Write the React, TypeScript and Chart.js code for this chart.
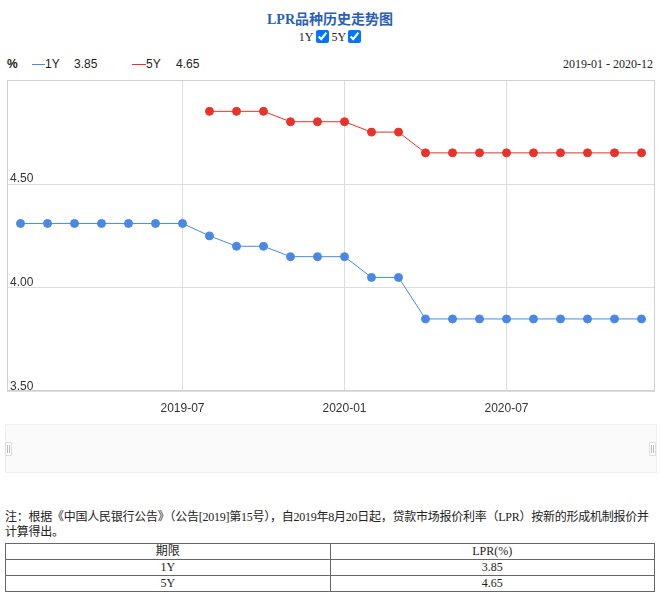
import React, { useEffect, useRef } from 'react';
import { Chart, registerables } from 'chart.js';

Chart.register(...registerables);

const months = [
  '2019-01', '2019-02', '2019-03', '2019-04', '2019-05', '2019-06',
  '2019-07', '2019-08', '2019-09', '2019-10', '2019-11', '2019-12',
  '2020-01', '2020-02', '2020-03', '2020-04', '2020-05', '2020-06',
  '2020-07', '2020-08', '2020-09', '2020-10', '2020-11', '2020-12',
];
const shownMonths = ['2019-07', '2020-01', '2020-07'];
const rate1Y = [
  4.31, 4.31, 4.31, 4.31, 4.31, 4.31, 4.31, 4.25, 4.2, 4.2, 4.15, 4.15,
  4.15, 4.05, 4.05, 3.85, 3.85, 3.85, 3.85, 3.85, 3.85, 3.85, 3.85, 3.85,
];
const rate5Y = [
  null, null, null, null, null, null, null, 4.85, 4.85, 4.85, 4.8, 4.8,
  4.8, 4.75, 4.75, 4.65, 4.65, 4.65, 4.65, 4.65, 4.65, 4.65, 4.65, 4.65,
];
const yMin = 3.5;
const yMax = 5.0;
const yStep = 0.5;
const latest1Y = '3.85';
const latest5Y = '4.65';
const rangeText = '2019-01 - 2020-12';
const tableHeader = ['期限', 'LPR(%)'];
const tableRows = [
  ['1Y', '3.85'],
  ['5Y', '4.65'],
];
const noteLine1 =
  '注：根据《中国人民银行公告》（公告[2019]第15号），自2019年8月20日起，贷款市场报价利率（LPR）按新的形成机制报价并';
const noteLine2 = '计算得出。';

const BLUE = '#4a88e2';
const RED = '#e8322a';
const SERIF = "'Liberation Serif', 'Noto Sans CJK SC', serif";
const SANS = "'Liberation Sans', Arial, sans-serif";

const borderPlugin = {
  id: 'areaBorder',
  beforeDatasetsDraw(chart: any) {
    const { ctx, chartArea } = chart;
    ctx.save();
    ctx.strokeStyle = '#d0d0d0';
    ctx.lineWidth = 1;
    ctx.strokeRect(
      Math.round(chartArea.left) + 0.5,
      Math.round(chartArea.top) + 0.5,
      Math.round(chartArea.right - chartArea.left) - 1,
      Math.round(chartArea.bottom - chartArea.top) - 1
    );
    ctx.restore();
  },
};

function LprChart() {
  const ref = useRef<HTMLCanvasElement>(null);
  useEffect(() => {
    if (!ref.current) return;
    const chart = new Chart(ref.current, {
      type: 'line',
      data: {
        labels: months,
        datasets: [
          {
            label: '1Y',
            data: rate1Y,
            borderColor: BLUE,
            backgroundColor: BLUE,
            pointBackgroundColor: BLUE,
            pointBorderColor: BLUE,
            borderWidth: 1,
            pointRadius: 4,
            pointBorderWidth: 1,
            tension: 0,
          },
          {
            label: '5Y',
            data: rate5Y,
            borderColor: RED,
            backgroundColor: RED,
            pointBackgroundColor: RED,
            pointBorderColor: RED,
            borderWidth: 1,
            pointRadius: 4,
            pointBorderWidth: 1,
            tension: 0,
            spanGaps: false,
          },
        ],
      },
      options: {
        animation: false,
        responsive: false,
        maintainAspectRatio: false,
        layout: { padding: { left: 7, right: 5, top: 4, bottom: 0 } },
        plugins: {
          legend: { display: false },
          tooltip: { enabled: false },
          title: { display: false },
        },
        scales: {
          x: {
            type: 'category',
            offset: true,
            border: { display: false },
            grid: {
              offset: false,
              drawTicks: false,
              color: (ctx: any) =>
                shownMonths.includes(months[ctx.index]) ? '#dddddd' : 'rgba(0,0,0,0)',
              lineWidth: 1,
            },
            ticks: {
              autoSkip: false,
              maxRotation: 0,
              padding: 10,
              color: '#333',
              font: { family: SANS, size: 12 },
              callback: (_v: any, i: number) =>
                shownMonths.includes(months[i]) ? months[i] : '',
            },
          },
          y: {
            min: yMin,
            max: yMax,
            border: { display: false },
            grid: { drawTicks: false, color: '#dddddd', lineWidth: 1 },
            afterFit: (s: any) => {
              s.width = 0;
            },
            ticks: {
              stepSize: yStep,
              mirror: true,
              padding: 3,
              labelOffset: -5,
              color: '#333',
              font: { family: SANS, size: 12 },
              callback: (v: any) => (Number(v) >= yMax ? '' : Number(v).toFixed(2)),
            },
          },
        },
      },
      plugins: [borderPlugin],
    } as any);
    return () => chart.destroy();
  }, []);
  return <canvas ref={ref} width={660} height={356} style={{ display: 'block' }} />;
}

export default function App() {
  return (
    <div
      style={{
        position: 'absolute',
        left: 0,
        top: 0,
        width: 660,
        height: 598,
        background: '#fff',
        overflow: 'hidden',
        fontFamily: SERIF,
        color: '#222',
      }}
    >
      <div
        style={{
          position: 'absolute',
          left: 0,
          width: 660,
          top: 11,
          textAlign: 'center',
          fontSize: 14,
          lineHeight: '18px',
          fontWeight: 'bold',
          color: '#2a5fb8',
          fontFamily: SERIF,
        }}
      >
        LPR品种历史走势图
      </div>
      <div
        style={{
          position: 'absolute',
          left: 0,
          width: 660,
          top: 29,
          textAlign: 'center',
          fontSize: 12,
          lineHeight: '16px',
          fontFamily: SERIF,
          color: '#222',
        }}
      >
        1Y
        <input type="checkbox" checked readOnly style={{ margin: '0 3px 0 2px', width: 13, height: 13, verticalAlign: -2 }} />
        5Y
        <input type="checkbox" checked readOnly style={{ margin: '0 0 0 2px', width: 13, height: 13, verticalAlign: -2 }} />
      </div>

      <div
        style={{
          position: 'absolute',
          left: 7,
          top: 57,
          fontFamily: SANS,
          fontSize: 12,
          lineHeight: '14px',
          color: '#222',
          whiteSpace: 'nowrap',
        }}
      >
        <span style={{ fontWeight: 'bold' }}>%</span>
      </div>
      <div style={{ position: 'absolute', left: 32, top: 64, width: 13, height: 1, background: BLUE }} />
      <div style={{ position: 'absolute', left: 45, top: 57, fontFamily: SANS, fontSize: 12, lineHeight: '14px', color: '#222' }}>1Y</div>
      <div style={{ position: 'absolute', left: 74, top: 57, fontFamily: SANS, fontSize: 12, lineHeight: '14px', color: '#222' }}>{latest1Y}</div>
      <div style={{ position: 'absolute', left: 132, top: 64, width: 14, height: 1, background: RED }} />
      <div style={{ position: 'absolute', left: 146, top: 57, fontFamily: SANS, fontSize: 12, lineHeight: '14px', color: '#222' }}>5Y</div>
      <div style={{ position: 'absolute', left: 176, top: 57, fontFamily: SANS, fontSize: 12, lineHeight: '14px', color: '#222' }}>{latest5Y}</div>
      <div
        style={{
          position: 'absolute',
          right: 7,
          top: 57,
          fontFamily: SERIF,
          fontSize: 12,
          lineHeight: '14px',
          color: '#222',
          whiteSpace: 'nowrap',
        }}
      >
        {rangeText}
      </div>

      <div style={{ position: 'absolute', left: 0, top: 70, width: 660, height: 356 }}>
        <LprChart />
      </div>

      <div
        style={{
          position: 'absolute',
          left: 5,
          top: 424,
          width: 650,
          height: 47,
          background: '#fafafa',
          border: '1px solid #f0f0f0',
        }}
      />
      <div style={{ position: 'absolute', left: 5, top: 442, width: 5, height: 12, background: '#fff', border: '1px solid #ddd', borderRadius: 1 }}>
        <div style={{ position: 'absolute', left: 1, top: 2, width: 1, height: 8, background: '#bbb' }} />
        <div style={{ position: 'absolute', left: 3, top: 2, width: 1, height: 8, background: '#bbb' }} />
      </div>
      <div style={{ position: 'absolute', left: 649, top: 442, width: 5, height: 12, background: '#fff', border: '1px solid #ddd', borderRadius: 1 }}>
        <div style={{ position: 'absolute', left: 1, top: 2, width: 1, height: 8, background: '#bbb' }} />
        <div style={{ position: 'absolute', left: 3, top: 2, width: 1, height: 8, background: '#bbb' }} />
      </div>

      <div
        style={{
          position: 'absolute',
          left: 5,
          top: 510,
          fontFamily: SERIF,
          fontSize: 12,
          lineHeight: '15px',
          letterSpacing: '-0.25px',
          color: '#222',
          whiteSpace: 'nowrap',
        }}
      >
        <div>{noteLine1}</div>
        <div>{noteLine2}</div>
      </div>

      <table
        style={{
          position: 'absolute',
          left: 5,
          top: 543,
          width: 650,
          borderCollapse: 'collapse',
          fontFamily: SERIF,
          fontSize: 12,
          color: '#222',
        }}
      >
        <tbody>
          <tr>
            {tableHeader.map((h) => (
              <td key={h} style={{ border: '1px solid #666', textAlign: 'center', padding: 0, height: 15, lineHeight: '15px', width: '50%' }}>
                {h}
              </td>
            ))}
          </tr>
          {tableRows.map((r) => (
            <tr key={r[0]}>
              {r.map((c, i) => (
                <td key={i} style={{ border: '1px solid #666', textAlign: 'center', padding: 0, height: 15, lineHeight: '15px' }}>
                  {c}
                </td>
              ))}
            </tr>
          ))}
        </tbody>
      </table>
    </div>
  );
}
